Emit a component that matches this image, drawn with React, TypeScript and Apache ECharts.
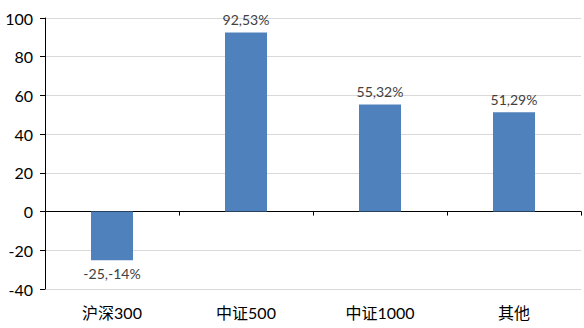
import React, { useEffect, useRef } from "react";
import * as echarts from "echarts";

const categories = ["沪深300", "中证500", "中证1000", "其他"];
const values = [-25.14, 92.53, 55.32, 51.29];
const valueLabels = ["-25,-14%", "92,53%", "55,32%", "51,29%"];
const yMin = -40;
const yMax = 100;
const yStep = 20;

const FONT = "Lato, 'Noto Sans CJK SC', sans-serif";

export default function App() {
  const ref = useRef<HTMLDivElement>(null);
  useEffect(() => {
    if (!ref.current) return;
    const chart = echarts.init(ref.current, undefined, { renderer: "svg" });
    chart.setOption({
      animation: false,
      grid: { left: 45, right: 3, top: 18, bottom: 39, containLabel: false },
      xAxis: [
        {
          type: "category",
          data: categories,
          position: "bottom",
          axisLine: { show: false, onZero: false },
          axisTick: { show: false },
          axisLabel: {
            show: true,
            margin: 15,
            color: "#000",
            fontSize: 16,
            fontFamily: FONT,
          },
          splitLine: { show: false },
        },
        {
          type: "category",
          data: categories,
          position: "top",
          axisLine: { show: true, onZero: true, lineStyle: { color: "#000", width: 1 } },
          axisTick: { show: true, inside: true, length: 4, lineStyle: { color: "#000" } },
          axisLabel: { show: false },
          splitLine: { show: false },
        },
      ],
      yAxis: {
        type: "value",
        min: yMin,
        max: yMax,
        interval: yStep,
        axisLine: { show: true, lineStyle: { color: "#000" } },
        axisTick: { show: true, length: 5, lineStyle: { color: "#000" } },
        axisLabel: {
          color: "#000",
          fontSize: 16,
          fontFamily: FONT,
          margin: 12,
        },
        splitLine: { show: true, lineStyle: { color: "#D9D9D9", width: 1 } },
      },
      series: [
        {
          type: "bar",
          xAxisIndex: 0,
          barWidth: 42,
          itemStyle: { color: "#4F81BD" },
          data: values.map((v, i) => ({
            value: v,
            label: {
              show: true,
              position: v < 0 ? "bottom" : "top",
              distance: 6,
              formatter: valueLabels[i],
              color: "#404040",
              fontSize: 14,
              fontFamily: FONT,
            },
          })),
        },
      ],
    });
    return () => chart.dispose();
  }, []);
  return <div ref={ref} style={{ width: 584, height: 328, position: "absolute", left: 0, top: 0, background: "#fff" }} />;
}
